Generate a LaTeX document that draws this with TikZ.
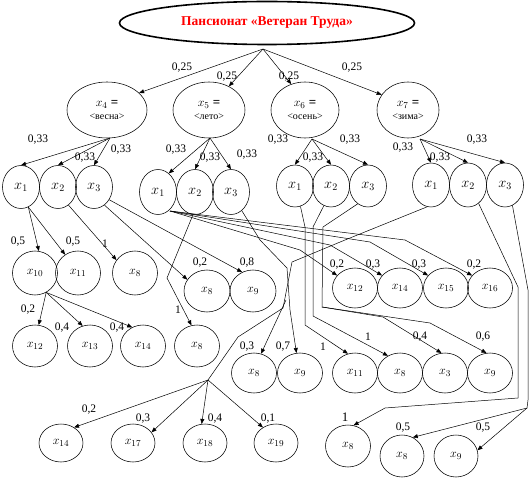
\documentclass[tikz,border=0pt]{standalone}
\usepackage{fontspec}
\setmainfont{Liberation Serif}
\usetikzlibrary{shapes.geometric,arrows.meta}
\begin{document}
\begin{tikzpicture}[x=1pt,y=-1pt,
  el/.style={draw,ellipse,inner sep=0pt,line width=0.55pt},
  top/.style={el,line width=1.6pt,minimum width=295pt,minimum height=43pt,font=\fontsize{13.5}{13.5}\selectfont\bfseries,text=red},
  lv/.style={el,minimum height=56pt,align=center,font=\fontsize{10}{11}\selectfont},
  cc/.style={el,minimum width=37pt,minimum height=43pt,font=\fontsize{14}{14}\selectfont},
  cd/.style={el,minimum width=45pt,minimum height=42pt,font=\fontsize{13}{13}\selectfont},
  ce/.style={el,minimum width=45pt,minimum height=40pt,font=\fontsize{13}{13}\selectfont},
  ar/.style={-{Triangle[length=5pt,width=4pt]},line width=0.5pt},
  ln/.style={line width=0.5pt},
  lb/.style={inner sep=0pt,font=\fontsize{11.5}{11.5}\selectfont}
]
\useasboundingbox (0,0) rectangle (532,481);
% top
\node[top] (T) at (267,23) {Пансионат «Ветеран Труда»};
\coordinate (Tb) at (263,49);
% level 2
\node[lv,minimum width=80pt] (A4) at (107,110) {{\fontsize{13}{13}\selectfont$x_4$ \textbf{=}}\\[2pt]<весна>};
\node[lv,minimum width=72pt] (A5) at (209,110) {{\fontsize{13}{13}\selectfont$x_5$ \textbf{=}}\\[2pt]<лето>};
\node[lv,minimum width=68pt] (A6) at (305,110) {{\fontsize{13}{13}\selectfont$x_6$ \textbf{=}}\\[2pt]<осень>};
\node[lv,minimum width=62pt] (A7) at (408,110) {{\fontsize{13}{13}\selectfont$x_7$ \textbf{=}}\\[2pt]<зима>};
\draw[ar] (Tb) -- (A4.28);
\draw[ar] (Tb) -- (A5.50);
\draw[ar] (Tb) -- (A6.118);
\draw[ar] (Tb) -- (A7.150);
\node[lb] (p1) at (182,68) {0,25};
\node[lb] (p2) at (227,77) {0,25};
\node[lb] (p3) at (289,77) {0,25};
\node[lb] (p4) at (352,68) {0,25};
% level 3
\node[cc] (G1a) at (21,187) {$x_1$};
\node[cc] (G1b) at (58,187) {$x_2$};
\node[cc] (G1c) at (94,187) {$x_3$};
\node[cc,minimum height=45pt] (G2a) at (158,192) {$x_1$};
\node[cc,minimum height=45pt] (G2b) at (195,192) {$x_2$};
\node[cc,minimum height=45pt] (G2c) at (231,192) {$x_3$};
\node[cc,minimum height=42pt] (G3a) at (295,186) {$x_1$};
\node[cc,minimum height=42pt] (G3b) at (331,186) {$x_2$};
\node[cc,minimum height=42pt] (G3c) at (368,186) {$x_3$};
\node[cc,minimum height=44pt] (G4a) at (431,185) {$x_1$};
\node[cc,minimum height=44pt] (G4b) at (468,185) {$x_2$};
\node[cc,minimum height=44pt] (G4c) at (505,185) {$x_3$};
\coordinate (b4) at (110,138);
\coordinate (b5) at (210,138);
\coordinate (b6) at (312,139);
\coordinate (b7) at (420,139);
\draw[ar] (b4) -- (G1a.north);
\draw[ar] (b4) -- (G1b.north);
\draw[ar] (b4) -- (G1c.north);
\draw[ar] (b5) -- (G2a.60);
\draw[ar] (b5) -- (G2b.north);
\draw[ar] (b5) -- (G2c.north);
\draw[ar] (b6) -- (G3a.north);
\draw[ar] (b6) -- (G3b.north);
\draw[ar] (b6) -- (G3c.north);
\draw[ar] (b7) -- (G4a.north);
\draw[ar] (b7) -- (G4b.north);
\draw[ar] (b7) -- (G4c.north);
\node[lb] (q1) at (38,140) {0,33};
\node[lb] (q2) at (85,158) {0,33};
\node[lb] (q3) at (121,150) {0,33};
\node[lb] (q4) at (176,150) {0,33};
\node[lb] (q5) at (210,158) {0,33};
\node[lb] (q6) at (247,155) {0,33};
\node[lb] (q7) at (278,140) {0,33};
\node[lb] (q8) at (313,158) {0,33};
\node[lb] (q9) at (350,140) {0,33};
\node[lb] (q10) at (403,148) {0,33};
\node[lb] (q11) at (440,158) {0,33};
\node[lb] (q12) at (477,140) {0,33};
% level 4 nodes
\node[cd,minimum height=44pt] (X10) at (35,273) {$x_{10}$};
\node[cd,minimum height=44pt] (X11a) at (78,273) {$x_{11}$};
\node[cd,minimum height=44pt] (X8a) at (135,273) {$x_{8}$};
\node[cd] (X12a) at (35,346) {$x_{12}$};
\node[cd] (X13) at (90,346) {$x_{13}$};
\node[cd] (X14a) at (143,346) {$x_{14}$};
\node[cd] (X8b) at (197,346) {$x_{8}$};
\node[cd,minimum width=46pt] (X8c) at (207,291) {$x_{8}$};
\node[cd,minimum width=46pt] (X9a) at (253,291) {$x_{9}$};
\node[ce] (X12b) at (355,288) {$x_{12}$};
\node[ce] (X14b) at (400,288) {$x_{14}$};
\node[ce] (X15) at (446,288) {$x_{15}$};
\node[ce] (X16) at (490,288) {$x_{16}$};
\node[ce] (X8d) at (254,373) {$x_{8}$};
\node[ce] (X9b) at (300,373) {$x_{9}$};
\node[ce] (X11b) at (355,373) {$x_{11}$};
\node[ce] (X8e) at (400,373) {$x_{8}$};
\node[ce] (X3) at (445,373) {$x_{3}$};
\node[ce] (X9c) at (490,373) {$x_{9}$};
\node[ce,minimum width=44pt,minimum height=38pt] (X14c) at (61,443) {$x_{14}$};
\node[ce,minimum width=44pt,minimum height=38pt] (X17) at (133,443) {$x_{17}$};
\node[ce,minimum width=44pt,minimum height=38pt] (X18) at (205,443) {$x_{18}$};
\node[ce,minimum width=44pt,minimum height=38pt] (X19) at (276,443) {$x_{19}$};
\node[cd] (X8f) at (348,446) {$x_{8}$};
\node[cd,minimum width=44pt] (X8g) at (402,456) {$x_{8}$};
\node[cd,minimum width=44pt] (X9d) at (456,456) {$x_{9}$};
% group 1 edges
\draw[ar] (G1a.-70) -- (X10.80);
\draw[ar] (G1a.-70) -- (X11a.125);
\draw[ar] (G1b.-60) -- (X8a.145);
\draw[ar] (G1c.-60) -- (X8c.150);
\draw[ar] (G1c.-40) -- (X9a.120);
\draw[ar] (X10.-60) -- (X12a.80);
\draw[ar] (X10.-60) -- (X13.110);
\draw[ar] (X10.-60) -- (X14a.120);
\node[lb] (r1) at (18,242) {0,5};
\node[lb] (r2) at (73,242) {0,5};
\node[lb] (r3) at (105,244) {1};
\node[lb] (r4) at (200,263) {0,2};
\node[lb] (r5) at (247,263) {0,8};
\node[lb] (r6) at (28,310) {0,2};
\node[lb] (r7) at (62,328) {0,4};
\node[lb] (r8) at (117,328) {0,4};
% group 2 edges
\coordinate (g2s) at (170,211);
\draw[ar] (G2b.-95) -- (167,278) -- (X8b.105);
\node[lb] (r9) at (178,310) {1};
\draw[ar] (g2s) -- (300,250) -- (X12b.145);
\draw[ar] (g2s) -- (330,245) -- (X14b.145);
\draw[ar] (g2s) -- (370,242) -- (X15.145);
\draw[ar] (g2s) -- (405,240) -- (X16.145);
\node[lb] (s1) at (337,265) {0,2};
\node[lb] (s2) at (373,265) {0,3};
\node[lb] (s3) at (419,265) {0,3};
\node[lb] (s4) at (474,265) {0,2};
\coordinate (m1) at (287,268);
\coordinate (m2) at (286,300);
\draw[ar] (G2c.-60) -- (260,240) -- (m1) -- (290,310) -- (X9b.100);
\draw[ar] (m2) -- (X8d.70);
\node[lb] (t1) at (247,347) {0,3};
\node[lb] (t2) at (283,347) {0,7};
% group 4 x1 to fan
\coordinate (Ap) at (208,380);
\draw[ln] (G4a.-100) -- (345,240) -- (292,262) -- (283,308) -- (238,337) -- (Ap);
\draw[ar] (Ap) -- (X14c.50);
\draw[ar] (Ap) -- (X17.30);
\draw[ar] (Ap) -- (X18.100);
\draw[ar] (Ap) -- (X19.130);
\node[lb] (u1) at (89,410) {0,2};
\node[lb] (u2) at (143,419) {0,3};
\node[lb] (u3) at (215,419) {0,4};
\node[lb] (u4) at (268,419) {0,1};
% group 3 edges
\draw[ar] (G3a.-75) -- (305,227) -- (305,325) -- (X11b.110);
\draw[ar] (G3b.-110) -- (313,227) -- (313,316) -- (X8e.125);
\coordinate (m3) at (322,307);
\draw[ln] (G3c.-120) -- (323,227) -- (m3);
\draw[ar] (m3) -- (383,317) -- (X3.100);
\draw[ar] (m3) -- (430,323) -- (X9c.100);
\node[lb] (v1) at (323,347) {1};
\node[lb] (v2) at (368,337) {1};
\node[lb] (v3) at (420,337) {0,4};
\node[lb] (v4) at (483,337) {0,6};
% group 4 x2, x3
\draw[ar] (G4b.-60) -- (518,287) -- (518,398) -- (385,408) -- (X8f.75);
\coordinate (Ap2) at (527,408);
\draw[ln] (G4c.-70) -- (528,290) -- (528,400) -- (Ap2);
\draw[ar] (Ap2) -- (X8g.60);
\draw[ar] (Ap2) -- (X9d.15);
\node[lb,font=\fontsize{13}{13}\selectfont] (w1) at (345,417) {1};
\node[lb] (w2) at (403,428) {0,5};
\node[lb] (w3) at (483,428) {0,5};
\end{tikzpicture}
\end{document}
